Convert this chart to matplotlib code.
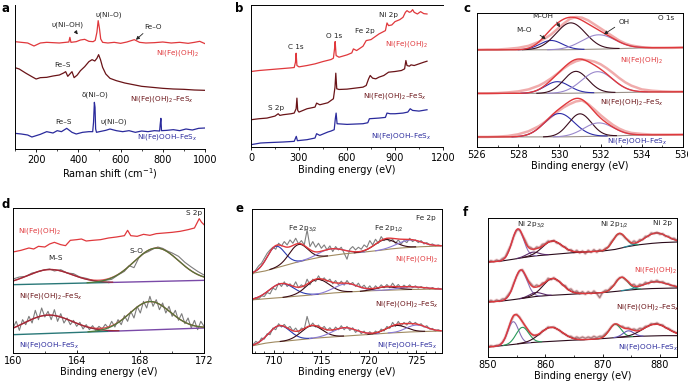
import numpy as np
import matplotlib
matplotlib.use("Agg")
import matplotlib.pyplot as plt
from matplotlib.ticker import MultipleLocator

plt.rcParams['font.family'] = ['DejaVu Sans']
plt.rcParams['mathtext.fontset'] = 'dejavusans'

# ---------------- data ----------------
# (a) Raman
a_red_x = [100,130,160,190,220,250,280,310,340,355,360,365,390,410,430,450,470,480,488,494,500,506,515,540,570,600,630,650,665,690,720,760,800,840,880,920,950,975,1000]
a_red_y = [322,320,318,309,318,320,319,318,320,321,335,320,322,327,329,323,322,326,350,385,362,330,320,318,320,317,321,325,328,320,318,319,321,318,320,317,320,323,316]
a_dark_x = [100,120,150,180,200,220,250,280,310,330,340,350,360,370,380,395,410,430,450,465,478,488,496,505,515,530,550,580,620,660,700,750,800,850,900,950,1000]
a_dark_y = [244,240,228,217,210,214,215,219,222,228,232,218,225,232,214,222,235,247,262,268,264,272,283,268,245,225,212,205,198,193,188,185,182,180,179,177,176]
a_blue_x = [100,130,160,180,200,220,250,280,300,320,345,370,390,420,450,468,472,476,479,482,486,500,530,550,580,610,640,670,700,730,760,785,788,791,794,820,850,880,910,940,970,1000]
a_blue_y = [47,45,42,36,40,44,52,48,55,52,62,50,45,50,52,52,80,140,125,60,50,52,56,60,55,52,55,50,54,52,55,54,75,92,55,56,58,55,60,57,62,63]

# (b) survey XPS
b_red_x = [0,50,100,150,200,250,270,278,282,287,300,350,400,450,500,515,522,526,532,550,600,630,640,660,700,720,750,800,840,850,860,880,900,930,950,965,975,990,1000,1010,1020,1040,1060,1080,1100]
b_red_y = [222,225,227,229,231,233,234,250,277,240,236,240,245,252,258,262,290,312,270,265,272,278,290,285,298,315,318,335,345,368,360,362,372,378,385,400,405,400,402,408,400,395,402,396,395]
b_dark_x = [0,50,100,150,170,180,200,250,270,282,287,292,300,350,400,410,430,480,500,515,525,530,536,550,600,650,700,720,735,745,760,780,800,830,860,900,940,960,968,975,990,1000,1020,1050,1080,1100]
b_dark_y = [77,80,82,88,95,90,92,95,97,110,142,105,100,110,115,127,122,128,135,140,175,217,170,168,169,172,175,180,200,210,202,200,205,210,220,222,225,230,255,240,238,242,240,245,250,253]
b_blue_x = [0,60,100,200,270,283,290,350,400,410,430,480,500,520,527,532,538,600,700,730,740,800,840,850,870,900,950,980,995,1010,1050,1100]
b_blue_y = [2,7,8,10,12,27,14,17,22,35,30,40,43,47,80,97,65,63,65,68,80,82,84,97,95,95,97,100,110,105,103,107]

# (c) O 1s : raw data, backgrounds, fitted peaks (centre, FWHM, height)
c_x = [526,526.5,527,527.5,528,528.5,529,529.3,529.6,529.9,530.2,530.5,530.8,531.1,531.4,531.7,532,532.3,532.6,532.9,533.2,533.5,534,534.5,535,535.5,536]
c_raw_top = [290,291,291,293,296,302,314,324,336,352,368,382,388,386,378,366,354,342,330,318,309,303,298,296,296,296,297]
c_raw_mid = [160,160,161,163,166,172,183,193,205,219,234,247,256,261,259,255,247,235,221,206,193,183,172,168,166,165,165]
c_raw_bot = [30,30,31,33,38,47,62,75,90,105,118,128,136,139,128,112,95,80,66,55,47,42,39,37,37,37,37]
c_bg_x = [526,530,531,532,533,534,536]
c_bg_top = [290,290,291,292,294,296,297]
c_bg_mid = [160,160,161,162,163,164,165]
c_bg_bot = [30,30,31,32,34,36,37]
c_peaks_top = [(529.6,1.3,28),(530.55,1.7,80),(531.9,1.9,43)]
c_peaks_mid = [(529.9,1.4,35),(530.8,1.4,65),(531.85,1.8,63)]
c_peaks_bot = [(530.0,1.7,70),(531.0,1.3,68),(531.9,1.7,40)]

# (d) S 2p
d_red_x = [160,160.5,161,161.3,161.6,162,162.3,162.6,163,163.3,163.6,164,164.3,164.6,165,165.5,166,166.5,167,167.2,167.4,167.8,168.2,168.6,169,169.5,170,170.5,171,171.4,171.7,171.85,172]
d_red_y = [303,308,315,312,320,318,327,332,325,322,338,340,342,336,338,340,345,348,352,368,352,350,356,353,358,360,362,365,370,375,403,392,385]
d_mid_x = [160,160.4,160.8,161.2,161.6,162,162.3,162.6,163,163.4,163.8,164.2,164.6,165,165.4,165.8,166.2,166.6,167,167.3,167.6,167.9,168.2,168.5,168.8,169.1,169.4,169.7,170,170.4,170.8,171.2,171.6,172]
d_mid_y = [222,228,230,240,244,250,252,246,250,240,238,228,224,218,214,218,221,234,245,262,256,285,298,304,312,318,314,306,300,290,272,258,245,234]
d_bot_x = [160,160.2,160.4,160.6,160.8,161,161.2,161.4,161.6,161.8,162,162.2,162.4,162.6,162.8,163,163.2,163.4,163.6,163.8,164,164.2,164.4,164.6,164.8,165,165.2,165.4,165.6,165.8,166,166.2,166.4,166.6,166.8,167,167.2,167.4,167.6,167.8,168,168.2,168.4,168.6,168.8,169,169.2,169.4,169.6,169.8,170,170.2,170.4,170.6,170.8,171,171.2,171.4,171.6,171.8,172]
d_bot_y = [75,95,68,100,85,110,90,128,100,135,108,125,100,130,95,118,90,105,85,98,80,92,72,85,70,82,68,80,72,86,75,95,78,100,85,112,95,125,105,140,120,155,135,170,140,160,130,150,120,140,110,128,98,118,88,105,75,98,70,95,80]
d_bg_x = [160,172]
d_bg_mid = [205,218]
d_bg_bot = [55,75]
d_peaks_mid = [(162.3,3.3,43),(169.0,3.3,100)]
d_peaks_bot = [(162.2,3.6,55),(168.6,3.0,85)]

# (e) Fe 2p
e_x = [707.8,708.1,708.4,708.7,709,709.3,709.6,709.9,710.2,710.5,710.8,711.1,711.4,711.7,712,712.3,712.6,712.9,713.2,713.5,713.8,714.1,714.4,714.7,715,715.3,715.6,715.9,716.2,716.5,716.8,717.1,717.4,717.7,718,718.3,718.6,718.9,719.2,719.5,719.8,720.1,720.4,720.7,721,721.3,721.6,721.9,722.2,722.5,722.8,723.1,723.4,723.7,724,724.3,724.6,724.9,725.2,725.5,725.8,726.1,726.4,726.7,727,727.3,727.6]
e_raw_top = [238,250,262,270,285,300,310,318,312,330,322,335,325,340,330,345,328,338,325,370,320,335,318,330,315,325,310,322,305,320,310,318,300,282,312,320,310,318,312,325,318,338,325,342,330,350,338,345,335,342,330,340,328,338,332,345,335,340,332,338,328,332,325,328,322,325,322]
e_raw_mid = [160,166,162,172,170,182,178,195,190,210,200,214,200,208,198,214,196,205,198,222,205,222,215,232,218,226,215,222,208,218,205,216,204,218,206,212,200,210,196,204,192,202,190,202,194,205,196,206,196,210,198,206,196,204,197,205,196,202,195,200,194,198,192,197,192,195,192]
e_raw_bot = [25,35,30,45,42,58,55,75,70,88,78,86,74,80,66,75,62,75,72,110,80,90,78,84,72,80,68,76,66,78,70,82,70,80,68,76,62,70,58,66,55,64,56,66,60,72,66,80,74,92,80,95,82,92,84,95,86,92,84,88,78,82,72,74,66,70,66]
e_bg_x = [707.8,709,710,711,712,713,714,715,716,717,718,719,720,721,722,723,724,725,726,727.6]
e_bg_top = [240,246,254,262,270,277,283,289,293,297,300,302,305,308,312,315,317,319,320,322]
e_bg_mid = [160,163,165,167,170,172,175,177,180,182,184,185,187,188,189,190,191,191,192,192]
e_bg_bot = [22,29,33,35,38,41,44,46,48,50,52,54,56,58,60,61,63,64,65,66]
e_peaks_top = [(710.2,2.2,65),(712.6,2.3,52),(716.0,3.0,20),(721.7,2.6,30),(724.3,3.0,22)]
e_peaks_mid = [(710.8,3.0,42),(714.6,2.8,45),(717.6,3.0,25),(721.8,2.5,10),(724.5,3.0,8)]
e_peaks_bot = [(710.6,2.6,48),(714.0,2.6,38),(717.4,3.0,25),(722.9,2.5,22),(725.0,2.5,20)]

# (f) Ni 2p
f_x = [850,850.5,851,851.5,852,852.5,853,853.5,854,854.5,855,855.5,856,856.5,857,857.5,858,858.5,859,859.5,860,860.5,861,861.5,862,862.5,863,863.5,864,864.5,865,865.5,866,866.5,867,867.5,868,868.5,869,869.5,870,870.5,871,871.5,872,872.5,873,873.5,874,874.5,875,875.5,876,876.5,877,877.5,878,878.5,879,879.5,880,880.5,881,881.5,882,882.5,883]
f_raw_top = [284,289,286,291,288,295,300,318,336,362,380,382,366,350,332,328,322,330,328,338,340,348,346,350,342,340,332,330,320,322,314,320,312,318,310,320,314,322,314,322,318,326,330,345,355,366,370,366,356,350,342,348,343,352,352,362,362,372,370,374,368,370,362,362,355,356,350]
f_raw_mid = [165,170,166,171,168,174,175,186,198,222,242,258,262,246,230,220,210,216,212,222,224,236,232,238,230,226,216,214,202,204,194,198,190,196,188,196,190,198,190,178,194,200,200,210,216,230,238,240,232,226,216,218,210,218,216,224,220,228,225,230,224,226,220,220,214,214,210]
f_raw_bot = [30,34,31,35,36,44,58,82,106,124,128,120,106,92,80,70,64,66,68,78,82,90,88,90,84,80,72,68,62,62,56,60,56,60,56,60,57,62,58,62,62,70,78,90,98,98,92,92,86,88,82,84,80,86,85,92,93,100,98,102,97,96,88,86,80,76,72]
f_bg_x = [850,852,854,856,858,860,862,864,866,868,870,872,874,876,878,880,883]
f_bg_top = [285,287,292,298,303,306,309,312,314,316,318,322,330,336,340,343,345]
f_bg_mid = [165,167,171,176,181,184,186,188,190,191,193,196,200,203,205,206,207]
f_bg_bot = [30,33,37,41,44,46,48,50,51,53,55,58,60,62,63,64,64]
f_peaks_top = [(855.2,2.4,88),(857.8,2.5,12),(861.2,4.0,40),(872.9,2.6,45),(879.3,4.5,30)]
f_peaks_mid = [(855.7,2.6,85),(858.3,2.5,12),(861.3,4.0,50),(873.3,2.6,40),(879.2,5.0,20)]
f_peaks_bot = [(854.4,2.2,68),(856.0,2.6,48),(861.0,4.5,42),(872.2,2.4,40),(874.5,2.2,18),(879.2,5.0,35)]

# ---------------- styles ----------------
RED = '#e0383c'
MAROON = '#6a1418'
BLUE = '#2a2a9c'
LAB = 5.2
W, H = 688, 386

fig = plt.figure(figsize=(6.88, 3.86), dpi=100)


def add_ax(l, r, t, b):
    return fig.add_axes([l / W, 1 - b / H, (r - l) / W, (b - t) / H])


def gauss(x, c, w, h):
    return h * np.exp(-4 * np.log(2) * ((x - c) / w) ** 2)


def style(ax, xlabel, inward=True, spines=('left', 'bottom', 'top', 'right')):
    for s in ('left', 'bottom', 'top', 'right'):
        ax.spines[s].set_visible(s in spines)
        ax.spines[s].set_linewidth(0.7)
    ax.set_yticks([])
    ax.tick_params(axis='x', labelsize=7, direction='in' if inward else 'out',
                   length=2.5, width=0.6, pad=2)
    ax.tick_params(axis='x', which='minor', direction='in' if inward else 'out',
                   length=1.5, width=0.5)
    ax.set_xlabel(xlabel, fontsize=7, labelpad=1)


def fit_stack(ax, xr, bgx, bgy, peaks, colors, bgcolor, env_color=RED, lw=0.8):
    xf = np.linspace(xr[0], xr[1], 400)
    bg = np.interp(xf, bgx, bgy)
    ax.plot(xf, bg, color=bgcolor, lw=lw)
    tot = bg.copy()
    for (c, w, h), col in zip(peaks, colors):
        g = gauss(xf, c, w, h)
        tot += g
        ax.plot(xf, np.where(g > 0.4, bg + g, np.nan), color=col, lw=lw)
    ax.plot(xf, tot, color=env_color, lw=1.0)


def txt(ax, x, y, s, c='#222222', ha='center', size=LAB):
    ax.text(x, y, s, color=c, fontsize=size, ha=ha, va='center')


# ---- panel a ----
ax = add_ax(15, 205, 5, 149)
ax.plot(a_red_x, a_red_y, color=RED, lw=0.9)
ax.plot(a_dark_x, a_dark_y, color=MAROON, lw=0.9)
ax.plot(a_blue_x, a_blue_y, color=BLUE, lw=0.9)
ax.set_xlim(100, 1000)
ax.set_ylim(0, 432)
ax.xaxis.set_major_locator(MultipleLocator(200))
ax.xaxis.set_minor_locator(MultipleLocator(100))
style(ax, 'Raman shift (cm$^{-1}$)', inward=False, spines=('left', 'bottom'))
txt(ax, 349, 372, 'υ(Ni–OH)')
ax.annotate('', xy=(405, 337), xytext=(378, 360),
            arrowprops=dict(arrowstyle='-|>', color='#222222', lw=0.6, mutation_scale=5))
txt(ax, 542, 402, 'υ(Ni–O)')
txt(ax, 756, 367, 'Fe–O')
ax.annotate('', xy=(663, 322), xytext=(716, 352),
            arrowprops=dict(arrowstyle='-|>', color='#222222', lw=0.6, mutation_scale=5))
txt(ax, 871, 287, 'Ni(Fe)(OH)$_2$', RED)
txt(ax, 325, 252, 'Fe–S')
txt(ax, 794, 149, 'Ni(Fe)(OH)$_2$–FeS$_x$', MAROON)
txt(ax, 478, 164, 'δ(Ni–O)')
txt(ax, 330, 82, 'Fe–S')
txt(ax, 566, 82, 'υ(Ni–O)')
txt(ax, 823, 37, 'Ni(Fe)OOH–FeS$_x$', BLUE)

# ---- panel b ----
ax = add_ax(251, 443, 5, 147)
ax.plot(b_red_x, b_red_y, color=RED, lw=0.9)
ax.plot(b_dark_x, b_dark_y, color=MAROON, lw=0.9)
ax.plot(b_blue_x, b_blue_y, color=BLUE, lw=0.9)
ax.set_xlim(0, 1200)
ax.set_ylim(-5, 422)
ax.xaxis.set_major_locator(MultipleLocator(300))
ax.xaxis.set_minor_locator(MultipleLocator(150))
style(ax, 'Binding energy (eV)', inward=False, spines=('left', 'bottom', 'top'))
txt(ax, 861, 392, 'Ni 2p')
txt(ax, 711, 344, 'Fe 2p')
txt(ax, 518, 329, 'O 1s')
txt(ax, 277, 297, 'C 1s')
txt(ax, 154, 112, 'S 2p')
txt(ax, 975, 305, 'Ni(Fe)(OH)$_2$', RED)
txt(ax, 903, 147, 'Ni(Fe)(OH)$_2$–FeS$_x$', MAROON)
txt(ax, 940, 29, 'Ni(Fe)OOH–FeS$_x$', BLUE)

# ---- panel c ----
ax = add_ax(477, 683, 13, 147)
ccols = ['#2c2ca8', '#3a0c1c', '#9a88cc']
for raw, bgy, pk in [(c_raw_top, c_bg_top, c_peaks_top),
                     (c_raw_mid, c_bg_mid, c_peaks_mid),
                     (c_raw_bot, c_bg_bot, c_peaks_bot)]:
    ax.plot(c_x, raw, color='#ee9e9e', lw=1.8, alpha=0.85, solid_capstyle='round')
    fit_stack(ax, (526, 536), c_bg_x, bgy, pk, ccols, '#9a9088')
ax.set_xlim(526, 536)
ax.set_ylim(0, 400)
ax.xaxis.set_major_locator(MultipleLocator(2))
ax.xaxis.set_minor_locator(MultipleLocator(1))
style(ax, 'Binding energy (eV)')
txt(ax, 535.2, 385, 'O 1s')
txt(ax, 529.2, 390, 'M–OH')
ax.annotate('', xy=(530.1, 350), xytext=(529.8, 380),
            arrowprops=dict(arrowstyle='-|>', color='#222222', lw=0.6, mutation_scale=5))
txt(ax, 528.3, 348, 'M–O')
ax.annotate('', xy=(529.45, 318), xytext=(528.95, 338),
            arrowprops=dict(arrowstyle='-|>', color='#222222', lw=0.6, mutation_scale=5))
txt(ax, 533.15, 372, 'OH')
ax.annotate('', xy=(532.05, 332), xytext=(532.8, 362),
            arrowprops=dict(arrowstyle='-|>', color='#222222', lw=0.6, mutation_scale=5))
txt(ax, 534.0, 260, 'Ni(Fe)(OH)$_2$', RED)
txt(ax, 533.5, 135, 'Ni(Fe)(OH)$_2$–FeS$_x$', MAROON)
txt(ax, 533.8, 17, 'Ni(Fe)OOH–FeS$_x$', BLUE)

# ---- panel d ----
ax = add_ax(13, 204, 208, 353)
ax.plot(d_red_x, d_red_y, color=RED, lw=0.9)
for raw_x, raw_y, bgy, pk in [(d_mid_x, d_mid_y, d_bg_mid, d_peaks_mid),
                              (d_bot_x, d_bot_y, d_bg_bot, d_peaks_bot)]:
    ax.plot(raw_x, raw_y, color='#7c7c7c', lw=0.8)
    xf = np.linspace(160, 172, 400)
    bg = np.interp(xf, d_bg_x, bgy)
    half = len(xf) // 2
    ax.plot(xf[:half + 1], bg[:half + 1], color='#2a7878', lw=1.0)
    ax.plot(xf[half:], bg[half:], color='#7a4aa8', lw=1.0)
    g1 = gauss(xf, *pk[0])
    g2 = gauss(xf, *pk[1])
    ax.plot(xf, np.where(g1 + g2 > 0.8, bg + g1 + g2, np.nan), color=RED, lw=1.0, alpha=0.85)
    ax.plot(xf, np.where(g1 > 0.8, bg + g1, np.nan), color='#9a2a3a', lw=0.9)
    ax.plot(xf, np.where(g2 > 0.8, bg + g2, np.nan), color='#4a7a3a', lw=0.9)
ax.set_xlim(160, 172)
ax.set_ylim(0, 435)
ax.xaxis.set_major_locator(MultipleLocator(4))
ax.xaxis.set_minor_locator(MultipleLocator(2))
style(ax, 'Binding energy (eV)')
txt(ax, 171.4, 420, 'S 2p')
txt(ax, 161.7, 365, 'Ni(Fe)(OH)$_2$', RED)
txt(ax, 162.7, 285, 'M–S')
txt(ax, 167.75, 305, 'S–O')
txt(ax, 162.4, 170, 'Ni(Fe)(OH)$_2$–FeS$_x$', MAROON)
txt(ax, 162.3, 25, 'Ni(Fe)OOH–FeS$_x$', BLUE)

# ---- panel e ----
ax = add_ax(252, 442, 209, 353)
ecols = ['#2a3ab0', '#3a0a14', '#8a7ad4', '#3a0a14', '#8a7ad4']
for raw, bgy, pk in [(e_raw_top, e_bg_top, e_peaks_top),
                     (e_raw_mid, e_bg_mid, e_peaks_mid),
                     (e_raw_bot, e_bg_bot, e_peaks_bot)]:
    ax.plot(e_x, raw, color='#808080', lw=0.8)
    fit_stack(ax, (707.8, 727.6), e_bg_x, bgy, pk, ecols, '#a08a60')
ax.set_xlim(707.7, 727.7)
ax.set_ylim(0, 433)
ax.xaxis.set_major_locator(MultipleLocator(5))
ax.xaxis.set_minor_locator(MultipleLocator(1))
style(ax, 'Binding energy (eV)')
txt(ax, 726.0, 405, 'Fe 2p')
txt(ax, 713.0, 373, 'Fe 2p$_{3/2}$')
txt(ax, 722.1, 373, 'Fe 2p$_{1/2}$')
txt(ax, 725.0, 283, 'Ni(Fe)(OH)$_2$', RED)
txt(ax, 724.0, 148, 'Ni(Fe)(OH)$_2$–FeS$_x$', MAROON)
txt(ax, 724.0, 25, 'Ni(Fe)OOH–FeS$_x$', BLUE)

# ---- panel f ----
ax = add_ax(488, 677, 218, 357)
fcols_tm = ['#8a70b4', '#5a2a6a', '#3a1020', '#2a9a6a', '#2a8a9a']
fcols_b = ['#8a70b4', '#2a9a5a', '#3a1020', '#2a9a5a', '#6a5ab8', '#3a1020']
for raw, bgy, pk, cols in [(f_raw_top, f_bg_top, f_peaks_top, fcols_tm),
                           (f_raw_mid, f_bg_mid, f_peaks_mid, fcols_tm),
                           (f_raw_bot, f_bg_bot, f_peaks_bot, fcols_b)]:
    ax.plot(f_x, raw, color='#8a8a8a', lw=1.0)
    ax.plot(f_x, raw, color='#e07a80', lw=2.2, alpha=0.35)
    fit_stack(ax, (850, 883), f_bg_x, bgy, pk, cols, '#2a0a1a')
ax.set_xlim(850, 883)
ax.set_ylim(0, 417)
ax.xaxis.set_major_locator(MultipleLocator(10))
ax.xaxis.set_minor_locator(MultipleLocator(5))
style(ax, 'Binding energy (eV)')
txt(ax, 880.5, 402, 'Ni 2p')
txt(ax, 857.6, 396, 'Ni 2p$_{3/2}$')
txt(ax, 872.0, 398, 'Ni 2p$_{1/2}$')
txt(ax, 879.2, 260, 'Ni(Fe)(OH)$_2$', RED)
txt(ax, 878.0, 150, 'Ni(Fe)(OH)$_2$–FeS$_x$', MAROON)
txt(ax, 878.0, 30, 'Ni(Fe)OOH–FeS$_x$', BLUE)

# panel letters
for lx, ly, s in [(2, 8, 'a'), (235, 8, 'b'), (463, 9, 'c'), (2, 204, 'd'), (235, 208, 'e'), (463, 213, 'f')]:
    fig.text(lx / W, 1 - ly / H, s, fontsize=8.5, fontweight='bold', va='center', ha='left')

fig.savefig('out.png', dpi=100)
